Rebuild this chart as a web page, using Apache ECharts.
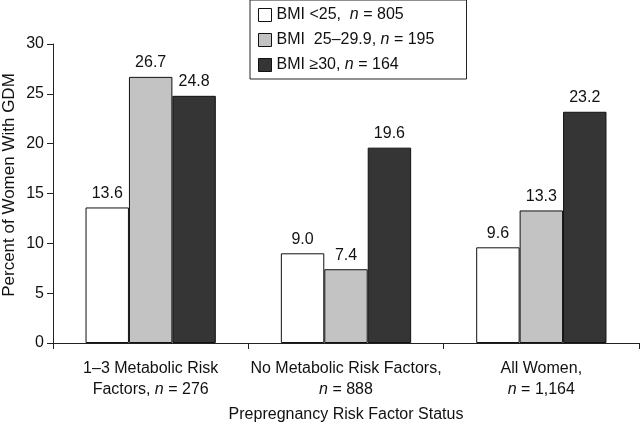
<!DOCTYPE html>
<html><head><meta charset="utf-8">
<script src="https://cdn.jsdelivr.net/npm/echarts@6/dist/echarts.min.js"></script>
<style>html,body{margin:0;padding:0;background:#fff}#c{width:640px;height:428px}</style>
</head><body><div id="c"></div>
<script>
var categories = ['1–3 Metabolic Risk\nFactors, {i|n} = 276', 'No Metabolic Risk Factors,\n{i|n} = 888', 'All Women,\n{i|n} = 1,164'];
var seriesNames = ['BMI <25', 'BMI 25–29.9', 'BMI ≥30'];
var legendLabels = ['BMI <25,  {i|n} = 805', 'BMI  25–29.9, {i|n} = 195', 'BMI ≥30, {i|n} = 164'];
var bmiUnder25 = [13.6, 9.0, 9.6];
var bmi25to29 = [26.7, 7.4, 13.3];
var bmiOver30 = [24.8, 19.6, 23.2];
var barColors = ['#ffffff', '#c3c3c3', '#353535'];
var yTicks = [0, 5, 10, 15, 20, 25, 30];

var FONT = '"Liberation Sans", Arial, sans-serif';
var FS = 16;
var chart = echarts.init(document.getElementById('c'), null, {renderer: 'canvas'});
var values = [bmiUnder25, bmi25to29, bmiOver30];
var series = values.map(function (v, i) {
  return {
    name: seriesNames[i], type: 'bar', data: v,
    barGap: '0%', barCategoryGap: '33.3%',
    itemStyle: {color: barColors[i], borderColor: '#111', borderWidth: 1},
    label: {show: true, position: 'top', distance: 6, color: '#111', fontSize: FS, fontFamily: FONT,
      formatter: function (p) { return p.value.toFixed(1); }},
    emphasis: {disabled: true}
  };
});
chart.setOption({
  animation: false,
  textStyle: {fontFamily: FONT},
  grid: {left: 53, right: 1, top: 44, bottom: 81, containLabel: false},
  legend: {
    orient: 'vertical', left: 250, top: 0,
    padding: [6, 8, 5, 8], itemGap: 7, itemWidth: 13, itemHeight: 13, icon: 'rect',
    borderColor: '#222', borderWidth: 1, selectedMode: false,
    data: seriesNames.map(function (n) { return {name: n, itemStyle: {borderColor: '#111', borderWidth: 1}}; }),
    formatter: function (name) { return legendLabels[seriesNames.indexOf(name)]; },
    textStyle: {fontSize: FS, color: '#111', fontFamily: FONT, width: 182, lineHeight: 18,
      rich: {i: {fontStyle: 'italic', fontSize: FS, color: '#111', fontFamily: FONT, lineHeight: 18}}}
  },
  xAxis: {
    type: 'category', data: categories,
    name: 'Prepregnancy Risk Factor Status', nameLocation: 'middle', nameGap: 64,
    nameTextStyle: {fontSize: FS, color: '#111', fontFamily: FONT},
    axisLine: {lineStyle: {color: '#222', width: 1}},
    axisTick: {show: true, length: 6, alignWithLabel: false, lineStyle: {color: '#222'}},
    axisLabel: {interval: 0, margin: 15, fontSize: FS, lineHeight: 21, color: '#111', fontFamily: FONT, align: 'center',
      rich: {i: {fontStyle: 'italic', fontSize: FS, color: '#111', fontFamily: FONT, lineHeight: 21}}}
  },
  yAxis: {
    type: 'value', min: yTicks[0], max: yTicks[yTicks.length - 1], interval: 5,
    axisLine: {show: true, lineStyle: {color: '#222', width: 1}},
    axisTick: {show: true, length: 6, lineStyle: {color: '#222'}},
    splitLine: {show: false},
    axisLabel: {margin: 9, fontSize: FS, color: '#111', fontFamily: FONT}
  },
  graphic: [
    {type: 'text', silent: true, position: [9, 185], rotation: Math.PI / 2,
     style: {text: 'Percent of Women With GDM', fontSize: 17, fontFamily: FONT, fill: '#111', textAlign: 'center', textVerticalAlign: 'middle'}}
  ],
  series: series
});
</script></body></html>
